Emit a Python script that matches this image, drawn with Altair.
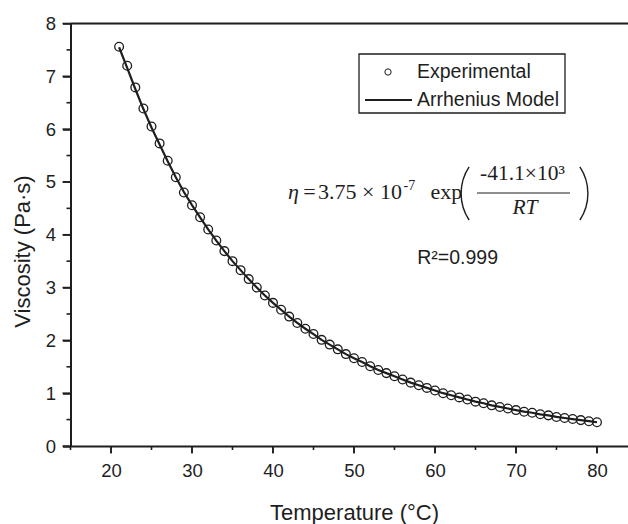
import altair as alt
import pandas as pd

# ---------------- data ----------------
temperature = [21, 22, 23, 24, 25, 26, 27, 28, 29, 30,
               31, 32, 33, 34, 35, 36, 37, 38, 39, 40,
               41, 42, 43, 44, 45, 46, 47, 48, 49, 50,
               51, 52, 53, 54, 55, 56, 57, 58, 59, 60,
               61, 62, 63, 64, 65, 66, 67, 68, 69, 70,
               71, 72, 73, 74, 75, 76, 77, 78, 79, 80]
viscosity_exp = [7.56, 7.20, 6.79, 6.39, 6.05, 5.73, 5.40, 5.09, 4.80, 4.56,
                 4.33, 4.10, 3.89, 3.69, 3.50, 3.33, 3.16, 3.00, 2.85, 2.71,
                 2.58, 2.45, 2.33, 2.22, 2.12, 2.01, 1.92, 1.83, 1.74, 1.66,
                 1.59, 1.51, 1.44, 1.38, 1.32, 1.26, 1.20, 1.15, 1.10, 1.05,
                 1.00, 0.96, 0.92, 0.88, 0.84, 0.81, 0.77, 0.74, 0.71, 0.68,
                 0.65, 0.63, 0.60, 0.58, 0.55, 0.53, 0.51, 0.49, 0.47, 0.45]
viscosity_model = [7.55, 7.16, 6.76, 6.38, 6.03, 5.71, 5.39, 5.09, 4.81, 4.56,
                   4.33, 4.10, 3.89, 3.69, 3.50, 3.33, 3.16, 3.00, 2.85, 2.71,
                   2.58, 2.45, 2.33, 2.22, 2.12, 2.01, 1.92, 1.83, 1.74, 1.66,
                   1.59, 1.51, 1.44, 1.38, 1.32, 1.26, 1.20, 1.15, 1.10, 1.05,
                   1.00, 0.96, 0.92, 0.88, 0.84, 0.81, 0.77, 0.74, 0.71, 0.68,
                   0.65, 0.63, 0.60, 0.58, 0.55, 0.53, 0.51, 0.49, 0.47, 0.45]
x_major = [20, 30, 40, 50, 60, 70, 80]
x_minor = [15, 25, 35, 45, 55, 65, 75]
y_major = [0, 1, 2, 3, 4, 5, 6, 7, 8]
y_minor = [0.5, 1.5, 2.5, 3.5, 4.5, 5.5, 6.5, 7.5]

df = pd.DataFrame({"T": temperature, "exp": viscosity_exp, "model": viscosity_model})
one = pd.DataFrame({"k": [0]})

INK = "#1e1e1e"
SANS = "Liberation Sans"
SERIF = "Liberation Serif"
W, H = 557.5, 422.5

xscale = alt.Scale(domain=[15, 83.83], nice=False, zero=False)
yscale = alt.Scale(domain=[0, 8], nice=False, zero=False)

ax_x = alt.Axis(orient="bottom", values=x_major, format="d", ticks=True, tickSize=7,
                tickWidth=1.6, tickColor=INK, domain=True, domainColor=INK, domainWidth=2,
                labelFont=SANS, labelFontSize=18.5, labelColor=INK, labelPadding=8,
                labelFlush=False, labelOverlap=False, grid=False, title="Temperature (°C)",
                titleFont=SANS, titleFontSize=22, titleFontWeight="normal", titleColor=INK,
                titleX=283.5, titleY=66, titleBaseline="middle", titleAlign="center")
ax_y = alt.Axis(orient="left", values=y_major, format="d", ticks=True, tickSize=8,
                tickWidth=1.6, tickColor=INK, domain=True, domainColor=INK, domainWidth=2,
                labelFont=SANS, labelFontSize=18.5, labelColor=INK, labelPadding=7,
                labelFlush=False, labelOverlap=False, grid=False, title="Viscosity (Pa·s)",
                titleFont=SANS, titleFontSize=22, titleFontWeight="normal", titleColor=INK,
                titleX=-48.5, titleY=227.5, titleBaseline="middle", titleAlign="center",
                titleAngle=270)

base = alt.Chart(df)

model_line = base.mark_line(color=INK, strokeWidth=2.2).encode(
    x=alt.X("T:Q", scale=xscale, axis=ax_x),
    y=alt.Y("model:Q", scale=yscale, axis=ax_y),
)
exp_points = base.mark_point(shape="circle", size=76, filled=False, color=INK,
                             strokeWidth=1.3, opacity=1).encode(
    x=alt.X("T:Q", scale=xscale),
    y=alt.Y("exp:Q", scale=yscale),
)


# tick marks placed through the scales
def xticks(vals, length):
    return alt.Chart(pd.DataFrame({"T": vals})).mark_rule(color=INK, strokeWidth=1.6).encode(
        x=alt.X("T:Q", scale=xscale), y=alt.value(H), y2=alt.value(H + length))


def yticks(vals, length):
    return alt.Chart(pd.DataFrame({"model": vals})).mark_rule(color=INK, strokeWidth=1.6).encode(
        y=alt.Y("model:Q", scale=yscale), x=alt.value(-length), x2=alt.value(0))


tick_layers = [xticks(x_major, 7), xticks(x_minor, 4), yticks(y_major, 8), yticks(y_minor, 4)]

# frame top line
top_line = alt.Chart(one).mark_rule(color=INK, strokeWidth=2).encode(
    x=alt.value(0), x2=alt.value(W), y=alt.value(0))

# legend
leg_box = alt.Chart(one).mark_rect(fill="white", stroke=INK, strokeWidth=1.3).encode(
    x=alt.value(288.5), x2=alt.value(494.5), y=alt.value(30.5), y2=alt.value(89.5))
leg_circle = alt.Chart(one).mark_point(shape="circle", size=40, filled=False, color=INK,
                                       strokeWidth=1, opacity=1).encode(
    x=alt.value(317.5), y=alt.value(48.5))
leg_line = alt.Chart(one).mark_rule(color=INK, strokeWidth=2).encode(
    x=alt.value(294.5), x2=alt.value(341.5), y=alt.value(76.5))


def txt(s, x, y, size=19.5, font=SANS, align="left", baseline="middle", style="normal"):
    return alt.Chart(one).mark_text(align=align, baseline=baseline, font=font, fontSize=size,
                                    fontStyle=style, color=INK).encode(
        x=alt.value(x), y=alt.value(y), text=alt.value(s))


leg_t1 = txt("Experimental", 346.5, 48.5)
leg_t2 = txt("Arrhenius Model", 346.5, 76.5)

# equation
eq = [
    txt("η", 217.5, 175.5, 22, SERIF, "left", "alphabetic", "italic"),
    txt("=", 239, 175.5, 22, SERIF, "center", "alphabetic"),
    txt("3.75 × 10", 247.5, 175.5, 22, SERIF, "left", "alphabetic"),
    txt("-7", 333, 166, 14, SERIF, "left", "alphabetic"),
    txt("exp", 360, 175.5, 22, SERIF, "left", "alphabetic"),
    txt("-41.1×10³", 452, 156.5, 21.5, SERIF, "center", "alphabetic"),
    txt("RT", 454.5, 190.5, 21.5, SERIF, "center", "alphabetic", "italic"),
    txt("R²=0.999", 427.5, 234, 19.5, SANS, "right", "middle"),
]
frac = alt.Chart(one).mark_rule(color=INK, strokeWidth=1.2).encode(
    x=alt.value(406.5), x2=alt.value(499.5), y=alt.value(169.5))
paren_l = alt.Chart(one).mark_arc(color=INK).encode(
    x=alt.value(438.5), y=alt.value(170), theta=alt.value(4.126), theta2=alt.value(5.299),
    radius=alt.value(48.6), radius2=alt.value(47.2))
paren_r = alt.Chart(one).mark_arc(color=INK).encode(
    x=alt.value(469.5), y=alt.value(170), theta=alt.value(0.984), theta2=alt.value(2.157),
    radius=alt.value(48.6), radius2=alt.value(47.2))

chart = alt.layer(
    model_line, exp_points, *tick_layers, top_line, leg_box, leg_circle, leg_line,
    leg_t1, leg_t2, frac, paren_l, paren_r, *eq
).properties(
    width=W, height=H,
    autosize=alt.AutoSizeParams(type="none"),
    padding={"left": 70.5, "top": 23.5, "right": 0, "bottom": 78},
).configure_view(stroke=None).configure(background="white")

chart.save("out.html", embed_options={"renderer": "svg", "actions": False})
